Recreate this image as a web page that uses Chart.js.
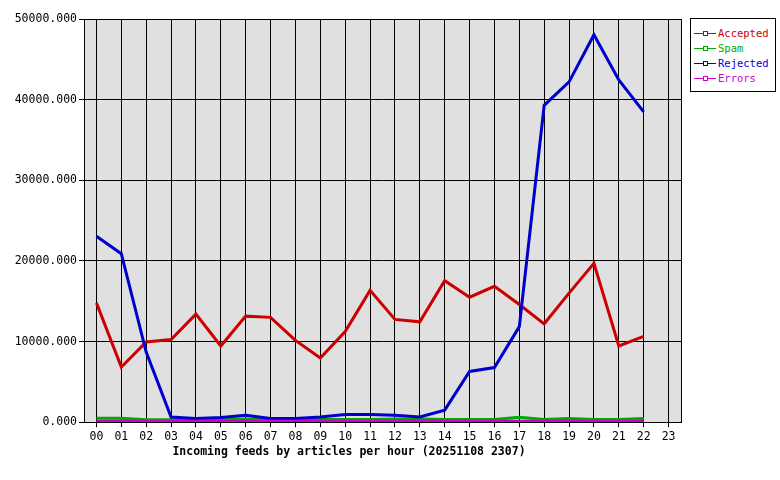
<!DOCTYPE html>
<html>
<head>
<meta charset="utf-8">
<script src="https://cdn.jsdelivr.net/npm/chart.js@4"></script>
<style>
  body { margin: 0; background: #fff; }
  #wrap { position: relative; width: 780px; height: 480px; }
  #legend {
    position: absolute; left: 690px; top: 18px; width: 86px; height: 74px;
    border: 1px solid #000; box-sizing: border-box; background: #fff;
    font: 10.5px "DejaVu Sans Mono", monospace; padding: 7px 0 0 3px;
  }
  #legend div { height: 15px; line-height: 15px; white-space: nowrap; position: relative; padding-left: 24px; }
  #legend span.sw { position: absolute; left: 0; top: 7px; width: 22px; height: 1px; }
  #legend span.sw i { position: absolute; left: 9px; top: -2px; width: 3px; height: 3px; border: 1px solid; background: #fff; }
</style>
</head>
<body>
<div id="wrap">
  <canvas id="chart" width="780" height="480"></canvas>
  <div id="legend"></div>
</div>
<script>
const hours = ['00','01','02','03','04','05','06','07','08','09','10','11','12','13','14','15','16','17','18','19','20','21','22','23'];
const accepted = [14800, 6850, 9950, 10250, 13400, 9450, 13150, 13000, 10150, 7950, 11250, 16350, 12750, 12450, 17550, 15500, 16850, 14600, 12200, 16000, 19700, 9450, 10650, null];
const spam = [500, 500, 300, 300, 300, 350, 400, 350, 300, 350, 350, 350, 400, 400, 350, 350, 350, 600, 350, 450, 350, 350, 450, null];
const rejected = [23050, 20900, 8700, 650, 450, 580, 870, 450, 450, 650, 950, 950, 870, 650, 1500, 6300, 6780, 11850, 39300, 42200, 48050, 42450, 38480, null];
const errors = [120, 120, 120, 120, 120, 120, 120, 120, 120, 120, 120, 120, 120, 120, 120, 120, 120, 120, 120, 120, 120, 120, 120, null];
const yTicks = [0, 10000, 20000, 30000, 40000, 50000];

const font = { family: '"DejaVu Sans Mono", monospace', size: 11.5 };

const series = [
  { label: 'Accepted', data: accepted, color: '#cc0000' },
  { label: 'Spam', data: spam, color: '#00aa00' },
  { label: 'Rejected', data: rejected, color: '#0000cc' },
  { label: 'Errors', data: errors, color: '#cc00cc' }
];

// x axis caption drawn under the ticks
const caption = {
  id: 'caption',
  afterDraw(chart) {
    const c = chart.ctx;
    c.save();
    c.font = 'bold 11.5px "DejaVu Sans Mono", monospace';
    c.fillStyle = '#000';
    c.textAlign = 'center';
    c.textBaseline = 'middle';
    c.fillText('Incoming feeds by articles per hour (20251108 2307)', 349, 452);
    c.restore();
  }
};

// grey plot background + frame
const frame = {
  id: 'frame',
  beforeDraw(chart) {
    const a = chart.chartArea, c = chart.ctx;
    c.save();
    c.fillStyle = '#e0e0e0';
    c.fillRect(a.left, a.top, a.right - a.left, a.bottom - a.top);
    c.restore();
  },
  afterDatasetsDraw(chart) {
    const a = chart.chartArea, c = chart.ctx;
    c.save();
    c.strokeStyle = '#000';
    c.lineWidth = 1;
    c.strokeRect(Math.round(a.left) + 0.5, Math.round(a.top) + 0.5, Math.round(a.right - a.left), Math.round(a.bottom - a.top));
    c.restore();
  }
};

new Chart(document.getElementById('chart'), {
  type: 'line',
  data: {
    labels: hours,
    datasets: series.map((s, i) => ({
      label: s.label,
      data: s.data,
      borderColor: s.color,
      backgroundColor: s.color,
      borderWidth: 3,
      pointRadius: 0,
      tension: 0,
      spanGaps: false,
      clip: false,
      order: series.length - i
    }))
  },
  options: {
    responsive: false,
    animation: false,
    layout: { padding: { top: 19, right: 99, bottom: 33, left: 0 } },
    plugins: { legend: { display: false }, tooltip: { enabled: false } },
    scales: {
      x: {
        offset: true,
        grid: { offset: false, color: '#000', lineWidth: 1, tickLength: 5, drawOnChartArea: true },
        border: { display: false },
        ticks: { color: '#000', font: font, padding: 3, maxRotation: 0, autoSkip: false }
      },
      y: {
        min: 0, max: 50000,
        afterBuildTicks: axis => { axis.ticks = yTicks.map(v => ({ value: v })); },
        grid: { color: '#000', lineWidth: 1, tickLength: 5 },
        border: { display: false },
        ticks: { color: '#000', font: font, padding: 2, callback: v => v.toFixed(3) },
        afterFit: axis => { axis.width = 84; }
      }
    }
  },
  plugins: [frame, caption]
});

const lg = document.getElementById('legend');
series.forEach(s => {
  const d = document.createElement('div');
  d.style.color = s.color;
  d.innerHTML = `<span class="sw" style="background:${s.color}"><i style="border-color:${s.color}"></i></span>${s.label}`;
  lg.appendChild(d);
});
</script>
</body>
</html>
